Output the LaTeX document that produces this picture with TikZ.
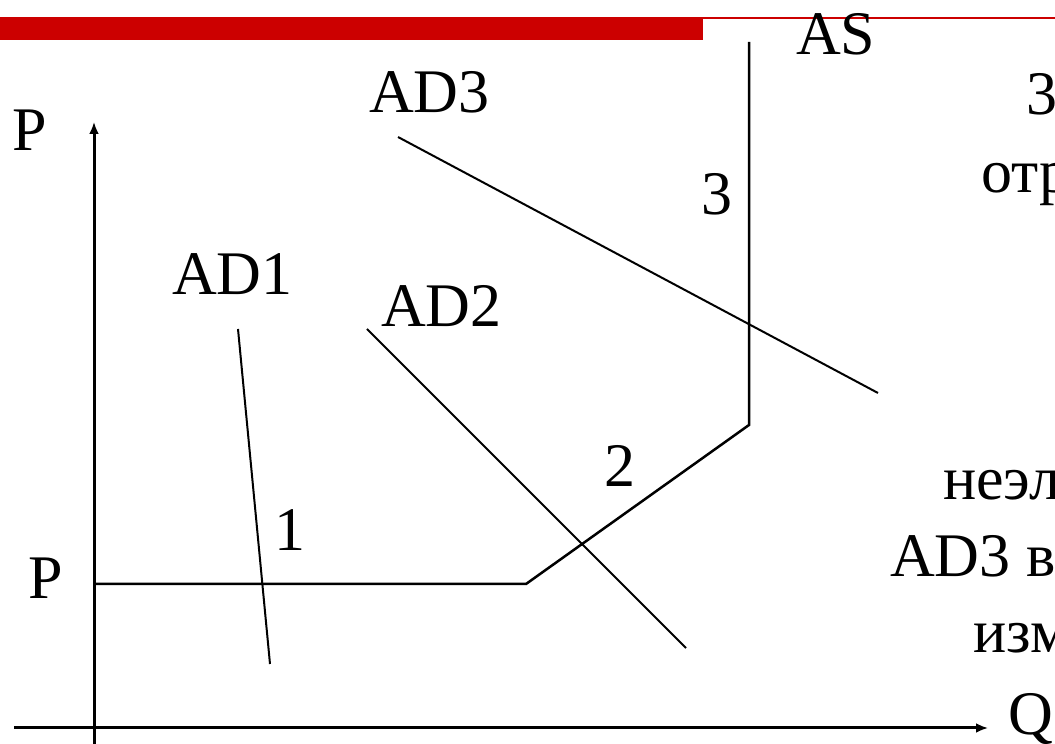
\documentclass[tikz,border=0pt]{standalone}
\usepackage{fontspec}
\setmainfont{Liberation Serif}
\usetikzlibrary{arrows.meta}
\definecolor{barred}{HTML}{CC0000}
\tikzset{
  lbl/.style={inner sep=0pt, anchor=base west, font=\fontsize{62}{74}\selectfont},
  axis/.style={line width=3pt, -{Latex[length=12pt,width=10pt]}},
  curve/.style={line width=2pt}
}
\begin{document}
\begin{tikzpicture}[x=1pt,y=1pt]
\path[use as bounding box] (0,0) rectangle (1055,744);
\clip (0,0) rectangle (1055,744);
\fill[barred] (0,704) rectangle (703,727);
\fill[barred] (703,725) rectangle (1055,727);
\coordinate (O) at (94,0);
\coordinate (Ptop) at (94,622);
\coordinate (Qs) at (14,16);
\coordinate (Qe) at (988,16);
\draw[axis] (O) -- (Ptop);
\draw[axis] (Qs) -- (Qe);
\coordinate (S1) at (94,160);
\coordinate (S2) at (526,160);
\coordinate (S3) at (749,319);
\coordinate (S4) at (749,702);
\draw[curve, line width=2.5pt] (S1) -- (S2) -- (S3) -- (S4);
\coordinate (A1a) at (238,415);
\coordinate (A1b) at (270,80);
\coordinate (A2a) at (367,415);
\coordinate (A2b) at (686,96);
\coordinate (A3a) at (398,607);
\coordinate (A3b) at (878,351);
\draw[curve] (A1a) -- (A1b);
\draw[curve] (A2a) -- (A2b);
\draw[curve] (A3a) -- (A3b);
\node[lbl] (p1) at (12,593) {P};
\node[lbl] (p2) at (28,145) {P};
\node[lbl] (q) at (1008,9) {Q};
\node[lbl] (ad1) at (172,449) {AD1};
\node[lbl] (ad2) at (381,417) {AD2};
\node[lbl] (ad3) at (369,631) {AD3};
\node[lbl] (as) at (796,689) {AS};
\node[lbl] (n1) at (274,193) {1};
\node[lbl] (n2) at (604,257) {2};
\node[lbl] (n3) at (701,529) {3};
\node[lbl] (r1) at (1026,629) {3};
\node[lbl] (r2) at (981,551) {отр};
\node[lbl] (r3) at (943,244) {неэл};
\node[lbl] (r4) at (890,167) {AD3 в};
\node[lbl] (r5) at (973,91) {изм};
\end{tikzpicture}
\end{document}
